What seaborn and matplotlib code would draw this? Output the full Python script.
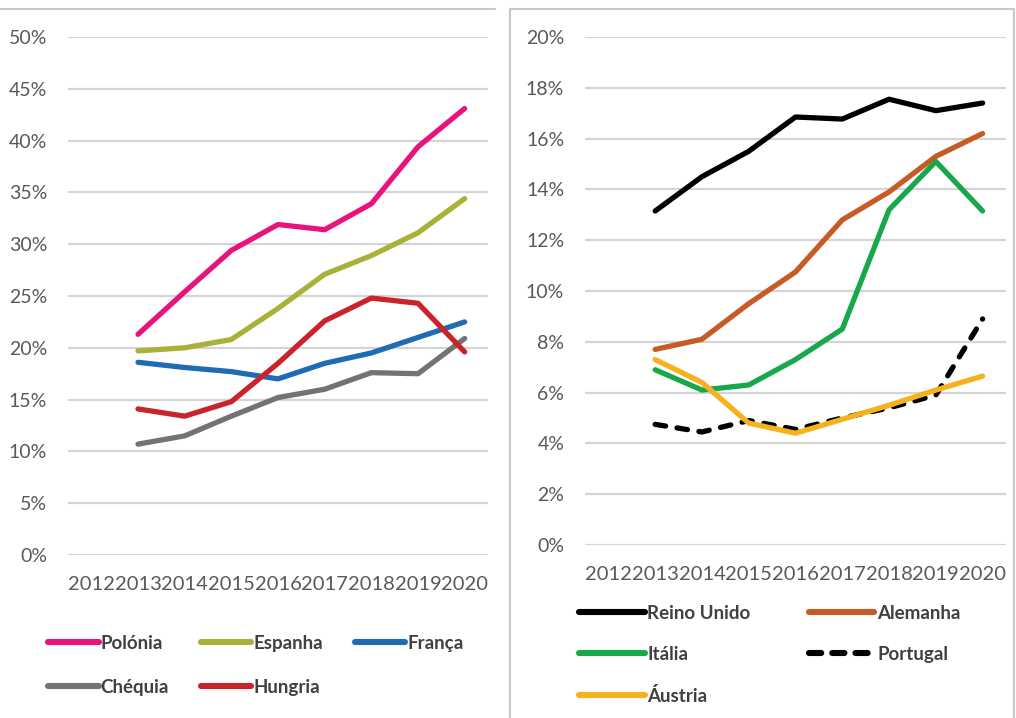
import matplotlib
matplotlib.use("Agg")
import matplotlib.pyplot as plt
import seaborn as sns
import pandas as pd
from matplotlib.patches import Rectangle
from matplotlib.lines import Line2D
from matplotlib.ticker import FuncFormatter

years_axis = [2012, 2013, 2014, 2015, 2016, 2017, 2018, 2019, 2020]
years = [2013, 2014, 2015, 2016, 2017, 2018, 2019, 2020]

# Left panel (%)
polonia = [21.3, 25.4, 29.4, 31.9, 31.4, 33.9, 39.4, 43.1]
espanha = [19.7, 20.0, 20.8, 23.8, 27.1, 28.9, 31.1, 34.4]
franca = [18.6, 18.1, 17.7, 17.0, 18.5, 19.5, 21.0, 22.5]
chequia = [10.7, 11.5, 13.4, 15.2, 16.0, 17.6, 17.5, 20.9]
hungria = [14.1, 13.4, 14.8, 18.5, 22.6, 24.8, 24.3, 19.6]

# Right panel (%)
reino_unido = [13.15, 14.5, 15.5, 16.85, 16.77, 17.55, 17.1, 17.4]
alemanha = [7.7, 8.1, 9.5, 10.75, 12.8, 13.9, 15.3, 16.2]
italia = [6.9, 6.1, 6.3, 7.3, 8.5, 13.2, 15.1, 13.15]
portugal = [4.75, 4.45, 4.9, 4.55, 5.0, 5.4, 5.9, 8.9]
austria = [7.3, 6.4, 4.8, 4.4, 4.95, 5.5, 6.1, 6.65]

left_series = [("Polónia", polonia, "#E8137D", "-"),
               ("Espanha", espanha, "#A9B238", "-"),
               ("França", franca, "#1F6CB4", "-"),
               ("Chéquia", chequia, "#737373", "-"),
               ("Hungria", hungria, "#C9232B", "-")]
right_series = [("Reino Unido", reino_unido, "#000000", "-"),
                ("Alemanha", alemanha, "#C65B25", "-"),
                ("Itália", italia, "#18A84B", "-"),
                ("Portugal", portugal, "#000000", "--"),
                ("Áustria", austria, "#F6B21C", "-")]

sns.set_theme(style="white")
plt.rcParams['font.family'] = ['Lato', 'DejaVu Sans']

W, H = 1016, 718
fig = plt.figure(figsize=(W / 100, H / 100), dpi=100)

def px_axes(x0, x1, ytop, ybot):
    return fig.add_axes([x0 / W, 1 - ybot / H, (x1 - x0) / W, (ybot - ytop) / H])

ax1 = px_axes(68, 488, 37, 555)
ax2 = px_axes(585, 1006, 37, 545)

LW = 3.8

def draw(ax, series, ymax, ystep):
    handles = {}
    for name, vals, col, ls in series:
        df = pd.DataFrame({"year": years, "v": vals})
        sns.lineplot(data=df, x="year", y="v", ax=ax, color=col, linewidth=LW,
                     legend=False, sort=False)
        ln = ax.lines[-1]
        ln.set_solid_capstyle("round")
        ln.set_solid_joinstyle("round")
        if ls == "--":
            ln.set_dashes((2.0, 2.2))
            ln.set_dash_capstyle("round")
        h = Line2D([0], [0], color=col, linewidth=LW + 0.6, solid_capstyle="round")
        if ls == "--":
            h.set_dashes((2.0, 1.8))
            h.set_dash_capstyle("round")
        handles[name] = h
    ax.set_xlim(years_axis[0] - 0.5, years_axis[-1] + 0.5)
    ax.set_ylim(0, ymax)
    ax.set_xticks(years_axis)
    ax.set_xticklabels([str(y) for y in years_axis])
    ax.set_yticks([ystep * i for i in range(int(ymax / ystep) + 1)])
    ax.yaxis.set_major_formatter(FuncFormatter(lambda v, p: f"{v:.0f}%"))
    ax.grid(axis="y", color="#D4D4D4", linewidth=1.6)
    ax.set_axisbelow(True)
    for s in ax.spines.values():
        s.set_visible(False)
    ax.tick_params(axis="both", length=0, colors="#595959")
    ax.tick_params(axis="y", pad=15, labelsize=14)
    ax.tick_params(axis="x", pad=15, labelsize=14.5)
    ax.set_xlabel("")
    ax.set_ylabel("")
    ax.patch.set_alpha(0)
    return handles

h1 = draw(ax1, left_series, 50, 5)
h2 = draw(ax2, right_series, 20, 2)

FS = 13.5
order1 = ["Polónia", "Chéquia", "Espanha", "Hungria", "França"]
leg1 = fig.legend([h1[n] for n in order1], order1, ncol=3,
                  loc="upper left", bbox_to_anchor=(31 / W, 1 - 618 / H),
                  frameon=False, handlelength=2.7, handletextpad=0.1,
                  columnspacing=1.7, labelspacing=1.43,
                  prop={"family": "Lato", "weight": "bold", "size": FS})
for t in leg1.get_texts():
    t.set_color("#404040")

order2 = ["Reino Unido", "Itália", "Áustria", "Alemanha", "Portugal"]
leg2 = fig.legend([h2[n] for n in order2], order2, ncol=2,
                  loc="upper left", bbox_to_anchor=(562 / W, 1 - 588 / H),
                  frameon=False, handlelength=3.5, handletextpad=0.15,
                  columnspacing=3.1, labelspacing=1.28,
                  prop={"family": "Lato", "weight": "bold", "size": FS})
for t in leg2.get_texts():
    t.set_color("#404040")

# panel borders
border = "#C8C8C8"
fig.add_artist(Line2D([0, 495 / W], [1 - 9 / H, 1 - 9 / H], color=border,
                      linewidth=1.5, transform=fig.transFigure))
fig.add_artist(Rectangle((510 / W, -0.01), (1014 - 510) / W, 1 - 9 / H + 0.01,
                         fill=False, edgecolor=border, linewidth=1.5,
                         transform=fig.transFigure))

fig.savefig("out.png", dpi=100)
